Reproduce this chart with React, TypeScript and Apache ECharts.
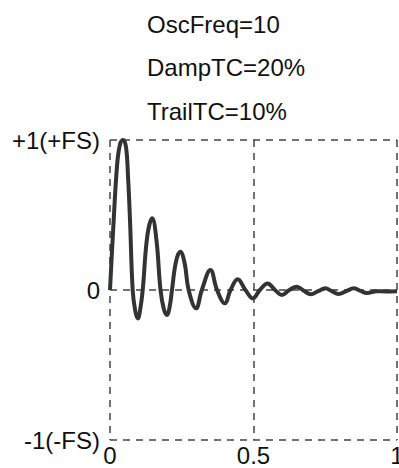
import React, { useEffect, useRef } from "react";
import * as echarts from "echarts";

const titleLines = ["OscFreq=10", "DampTC=20%", "TrailTC=10%"];
const xTicks = [0, 0.5, 1];
const yTickLabels: Record<string, string> = { "1": "+1(+FS)", "0": "0", "-1": "-1(-FS)" };

const xs = [
  0, 0.011, 0.025, 0.036, 0.046, 0.056, 0.063, 0.07, 0.079, 0.088, 0.097, 0.106, 0.114,
  0.13, 0.147, 0.162, 0.176, 0.188, 0.199, 0.208, 0.216, 0.23, 0.245, 0.26, 0.274, 0.3,
  0.32, 0.35, 0.373, 0.4, 0.42, 0.445, 0.472, 0.498, 0.522, 0.549, 0.575, 0.599, 0.625,
  0.651, 0.675, 0.7, 0.725, 0.75, 0.773, 0.796, 0.823, 0.85, 0.873, 0.895, 0.93, 0.96, 1.0,
];
const ys = [
  0, 0.4, 0.84, 0.98, 1.0, 0.95, 0.75, 0.45, 0, -0.14, -0.19, -0.12, 0,
  0.36, 0.478, 0.33, 0, -0.13, -0.167, -0.11, 0, 0.19, 0.255, 0.18, 0, -0.122,
  0, 0.133, 0, -0.089, 0, 0.072, 0, -0.056, 0, 0.044, 0, -0.033, 0,
  0.022, -0.005, -0.028, -0.008, 0.011, -0.008, -0.027, -0.008, 0.011, -0.006, -0.02, -0.008, -0.01, -0.008,
];

const FONT = "'Liberation Sans', Arial, sans-serif";

export default function App() {
  const ref = useRef<HTMLDivElement>(null);
  useEffect(() => {
    if (!ref.current) return;
    const chart = echarts.init(ref.current, undefined, { renderer: "svg" });
    const dash = { color: "#444", width: 1.5, type: [7, 6] as number[] };
    chart.setOption({
      animation: false,
      backgroundColor: "#fff",
      graphic: titleLines.map((t, i) => ({
        type: "text",
        left: 147,
        top: 12 + i * 43.5,
        style: { text: t, font: `24px ${FONT}`, fill: "#111" },
      })),
      grid: { left: 110, right: 2, top: 140, bottom: 28, outerBoundsMode: "none", containLabel: false },
      xAxis: {
        type: "value",
        min: 0,
        max: 1,
        interval: 0.5,
        axisLine: { show: false },
        axisTick: { show: false },
        splitLine: { show: true, lineStyle: dash },
        axisLabel: {
          margin: 3,
          fontSize: 24,
          lineHeight: 24,
          fontFamily: FONT,
          color: "#111",
          showMaxLabel: true,
          hideOverlap: false,
          formatter: (v: number) => (xTicks.includes(v) ? String(v) : ""),
        },
      },
      yAxis: {
        type: "value",
        min: -1,
        max: 1,
        interval: 1,
        axisLine: { show: false },
        axisTick: { show: false },
        splitLine: { show: true, lineStyle: dash },
        axisLabel: {
          margin: 10,
          fontSize: 24,
          fontFamily: FONT,
          color: "#111",
          formatter: (v: number) => yTickLabels[String(v)] ?? "",
        },
      },
      series: [
        {
          type: "line",
          data: xs.map((x, i) => [x, ys[i]]),
          smooth: 0.4,
          showSymbol: false,
          lineStyle: { color: "#333", width: 4 },
        },
      ],
    });
    return () => chart.dispose();
  }, []);
  return <div ref={ref} style={{ width: 399, height: 468, position: "absolute", left: 0, top: 0 }} />;
}
